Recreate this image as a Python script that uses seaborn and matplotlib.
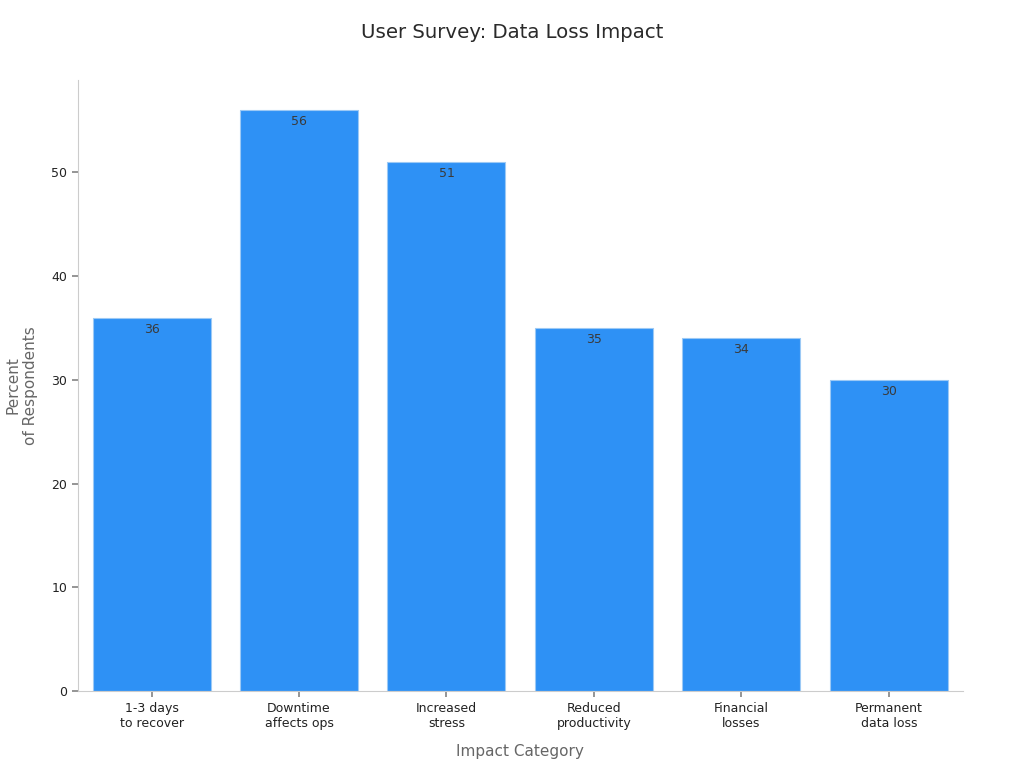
import matplotlib
matplotlib.use("Agg")
import matplotlib.pyplot as plt
import seaborn as sns
import pandas as pd

categories = ["1-3 days\nto recover", "Downtime\naffects ops", "Increased\nstress",
              "Reduced\nproductivity", "Financial\nlosses", "Permanent\ndata loss"]
percents = [36, 56, 51, 35, 34, 30]

sns.set_theme(style="white")
plt.rcParams["font.family"] = ["DejaVu Sans"]

df = pd.DataFrame({"category": categories, "percent": percents})

fig = plt.figure(figsize=(10.24, 7.68), dpi=100)
ax = fig.add_axes([0.076, 0.100, 0.864, 0.796])

sns.barplot(data=df, x="category", y="percent", color="#2E91F5", saturation=1,
            width=0.8, edgecolor="#9CC9F5", linewidth=0.8, ax=ax)

for c in ax.containers:
    ax.bar_label(c, labels=[f"{v:.0f}" for v in c.datavalues], label_type="edge",
                 padding=-13, fontsize=9, color="#3a3a3a")

ax.set_xlim(-0.5, 5.5)
ax.set_ylim(0, 58.9)
ax.set_yticks([0, 10, 20, 30, 40, 50])

for side in ["top", "right"]:
    ax.spines[side].set_visible(False)
for side in ["left", "bottom"]:
    ax.spines[side].set_color("#CCCCCC")
    ax.spines[side].set_linewidth(0.8)

ax.tick_params(axis="both", which="both", length=4, color="#888888",
               labelsize=9, labelcolor="#222222", left=True, bottom=True)

ax.set_xlabel("Impact Category", fontsize=11, color="#666666", labelpad=10)
ax.set_ylabel("Percent\nof Respondents", fontsize=11, color="#666666", labelpad=10)
fig.suptitle("User Survey: Data Loss Impact", fontsize=14.2, color="#2a2a2a", y=0.97)

plt.savefig("out.png", dpi=100)
plt.close()
